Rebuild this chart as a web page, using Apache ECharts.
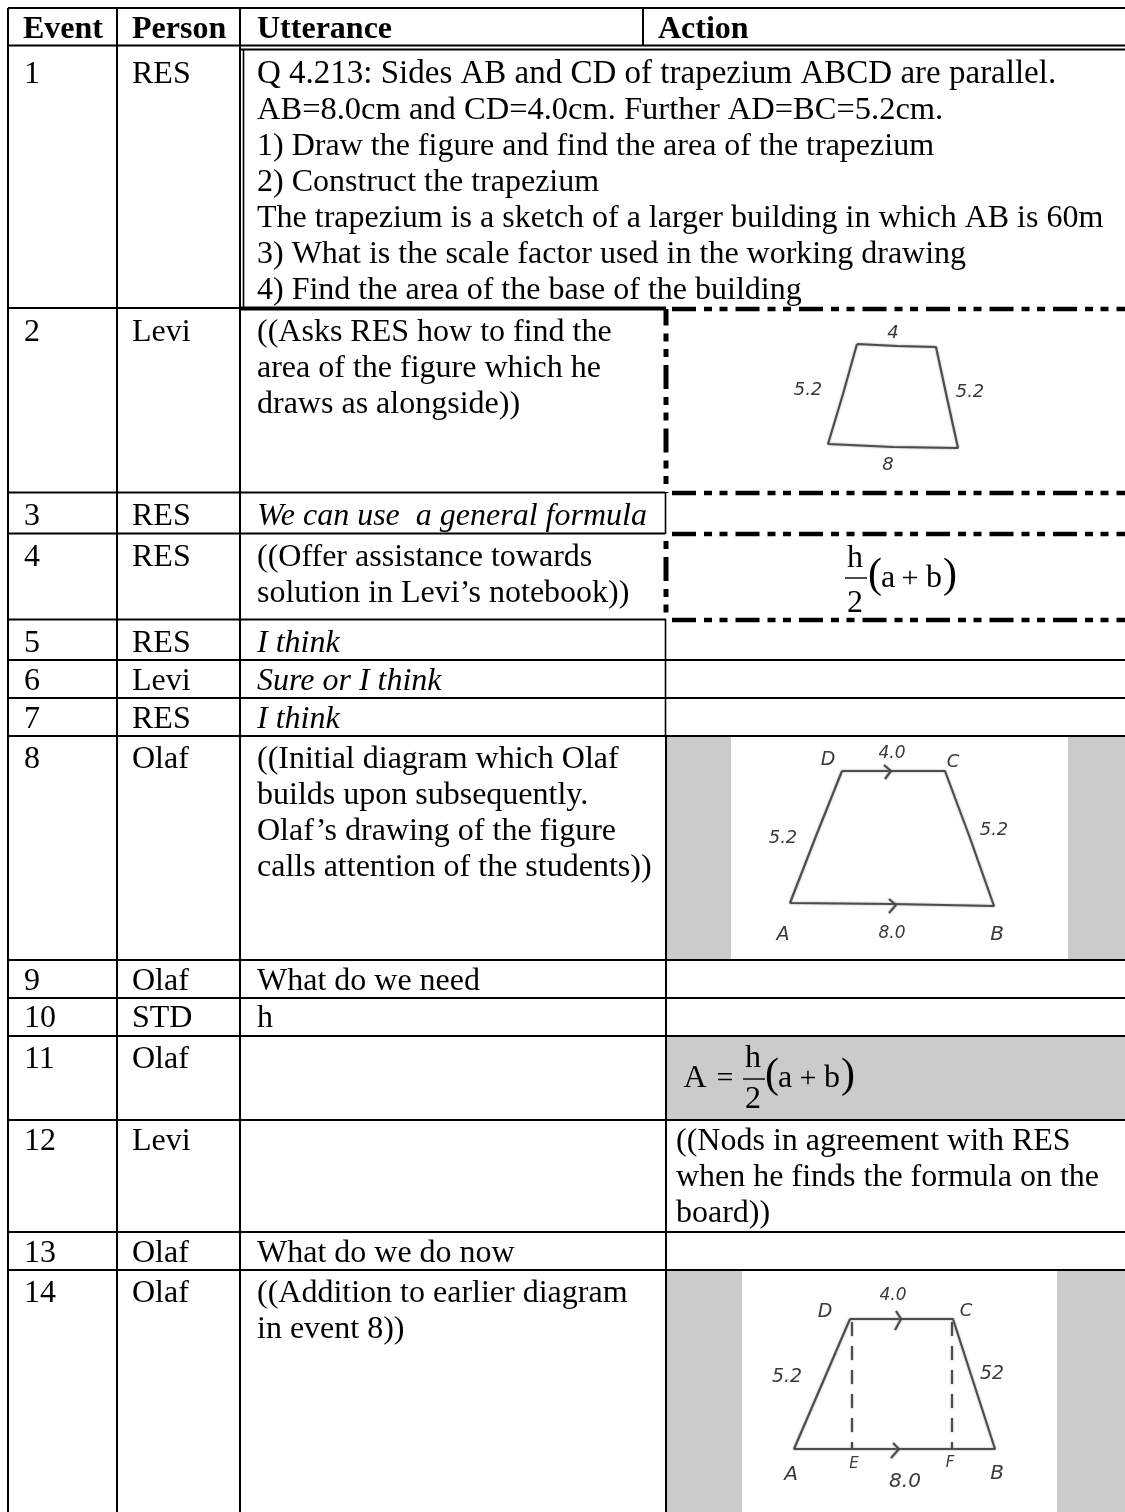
<!DOCTYPE html>
<html><head><meta charset="utf-8">
<style>html,body{margin:0;padding:0;background:#fff}#c{width:1125px;height:1512px}</style>
<script src="https://cdn.jsdelivr.net/npm/echarts@6/dist/echarts.min.js"></script>
</head><body><div id="c"></div>
<script>
// ---- table content ----
const headers = ['Event','Person','Utterance','Action'];
const events = ['1','2','3','4','5','6','7','8','9','10','11','12','13','14'];
const persons = ['RES','Levi','RES','RES','RES','Levi','RES','Olaf','Olaf','STD','Olaf','Levi','Olaf','Olaf'];
const utterances = [
  ['Q 4.213: Sides AB and CD of trapezium ABCD are parallel.','AB=8.0cm and CD=4.0cm. Further AD=BC=5.2cm.','1) Draw the figure and find the area of the trapezium','2) Construct the trapezium','The trapezium is a sketch of a larger building in which AB is 60m','3) What is the scale factor used in the working drawing','4) Find the area of the base of the building'],
  ['((Asks RES how to find the','area of the figure which he','draws as alongside))'],
  ['We can use  a general formula'],
  ['((Offer assistance towards','solution in Levi\u2019s notebook))'],
  ['I think'],['Sure or I think'],['I think'],
  ['((Initial diagram which Olaf','builds upon subsequently.','Olaf\u2019s drawing of the figure','calls attention of the students))'],
  ['What do we need'],['h'],[],[],['What do we do now'],
  ['((Addition to earlier diagram','in event 8))']
];
const italicRows = [2,4,5,6];
const actions12 = ['((Nods in agreement with RES','when he finds the formula on the','board))'];

// ---- table geometry (axis units = page pixels) ----
const firstBaselines = [83,341,525,566,652,690,728,768,990,1027,1068,1150,1262,1302];
const lineGap = 36;
const fontSize = 32;
const firstRowLineSizes = [33,32.5,32,32,32,32,32];
const xEvent = 24, xPerson = 132, xUtter = 257, xAction = 676, xActionHead = 658;
const columnRules = [8,117,240];
const solidRows = [660,698,736,960,998,1036,1120,1232,1270];
const dashedRows = [309,493,534,620];
const grayBands = [[667,731,737,960],[1068,1125,737,960],[667,1125,1037,1120],[667,742,1271,1512],[1057,1125,1271,1512]];

// ---- hand-drawn figures: outline points ----
const fig2 = [[857,344],[897,346],[936,347],[947,398],[958,448],[893,447],[828,444],[843,394],[857,344]];
const fig8 = [[842,771],[893,771],[945,771],[970,838],[994,906],[892,904],[790,903],[816,836],[842,771]];
const fig14 = [[850,1319],[900,1319],[953,1319],[974,1384],[995,1449],[895,1449],[794,1449],[822,1384],[850,1319]];
const arrows = [[[884,765],[891,771],[885,779]],[[889,899],[896,905],[889,913]],[[896,1311],[901,1319],[895,1330]],[[893,1443],[899,1449],[891,1458]]];
const dashes14 = [[[852,1322],[852,1449]],[[952,1322],[952,1449]]];
const sketchLabels = [
  ['4',893,332,18],['5.2',808,389,18],['5.2',970,391,18],['8',888,464,18],
  ['D',828,758,19],['4.0',892,752,17],['C',953,761,18],['5.2',783,837,18],['5.2',994,829,18],['A',783,933,19],['8.0',892,932,17],['B',997,933,20],
  ['4.0',893,1294,17],['D',825,1310,19],['C',966,1310,18],['5.2',787,1375,19],['52',992,1372,19],['A',791,1473,20],['E',854,1463,15],['F',950,1462,15],['8.0',905,1480,20],['B',997,1472,20]
];
// formula pieces: text, centre x, baseline y, font size
const formulaPieces = [
  ['h',855,567,32],['2',855,612,32],['(',875,587,42],['a',888,587,32],['+',910,587,30],['b',934,587,32],[')',950,587,42],
  ['A',695,1087,32],['=',725,1087,30],['h',753,1067,32],['2',753,1108,32],['(',772,1087,42],['a',785,1087,32],['+',808,1087,30],['b',832,1087,32],[')',848,1087,42]
];
const formulaBars = [[845,867,578],[743,765,1079]];

// ---- build rule list ----
const K='#000';
const rules = [];
function rule(x1,y1,x2,y2,w){rules.push([x1,y1,x2,y2,w]);}
rule(8,8,1125,8,2);                // top
rule(8,45.5,240,45.5,2); rule(240,45.5,1125,45.5,2.2); rule(240,49.5,1125,49.5,2);
rule(643,8,643,45,2);
columnRules.forEach(x=>rule(x,8,x,1512,2));
rule(243.5,49,243.5,308,1.6);
rule(8,308,240,308,2); rule(240,308.5,666,308.5,4);
rule(8,492.5,665,492.5,1.8); rule(665.5,492,665.5,534,1.6); rule(8,533.5,665,533.5,1.8);
rule(8,619.5,666,619.5,1.8); rule(665.5,619,665.5,736,1.6);
solidRows.forEach(y=>rule(8,y,1125,y,2));
rule(666,736,666,1512,2);
formulaBars.forEach(b=>rule(b[0],b[2],b[1],b[2],1.4));

// ---- build text list ----
const SERIF='"Liberation Serif","Times New Roman",serif';
const texts = [];
function T(s,x,base,size,opts){texts.push(Object.assign({s,x,base,size,align:'left',weight:'normal',style:'normal',family:SERIF,color:'#000'},opts||{}));}
T(headers[0],23,38,fontSize,{weight:'bold'});T(headers[1],132,38,fontSize,{weight:'bold'});T(headers[2],257,38,fontSize,{weight:'bold'});T(headers[3],xActionHead,38,fontSize,{weight:'bold'});
events.forEach((e,i)=>{
  T(e,xEvent,firstBaselines[i],fontSize);
  T(persons[i],xPerson,firstBaselines[i],fontSize);
  utterances[i].forEach((l,j)=>T(l,xUtter,firstBaselines[i]+j*lineGap,i===0?firstRowLineSizes[j]:fontSize,{style:italicRows.includes(i)?'italic':'normal'}));
});
actions12.forEach((l,j)=>T(l,xAction,firstBaselines[11]+j*lineGap,fontSize));
formulaPieces.forEach(p=>T(p[0],p[1],p[2],p[3],{align:'center'}));
sketchLabels.forEach(p=>T(p[0],p[1],p[2]+p[3]*0.36,p[3],{align:'center',family:'"DejaVu Sans",sans-serif',color:'#3a3a3a',style:'oblique'}));

const AXISOFF={show:false};
const sketchStyle=(d)=>({type:'line',data:d,coordinateSystem:'cartesian2d',symbol:'none',silent:true,z:3,animation:false,lineStyle:{color:'#3a3a3a',width:2.1,opacity:.85,shadowBlur:2,shadowColor:'#888'}});
const series=[
 {type:'custom',name:'bands',z:1,silent:true,animation:false,clip:false,data:grayBands,
  encode:{x:[0,1],y:[2,3]},
  renderItem:(p,api)=>{const a=api.coord([api.value(0),api.value(2)]),b=api.coord([api.value(1),api.value(3)]);
    return {type:'rect',shape:{x:a[0],y:a[1],width:b[0]-a[0],height:b[1]-a[1]},style:{fill:'#cbcbcb'}};}},
 {type:'custom',name:'rules',z:4,silent:true,animation:false,clip:false,data:rules,
  encode:{x:[0,2],y:[1,3]},
  renderItem:(p,api)=>{const a=api.coord([api.value(0),api.value(1)]),b=api.coord([api.value(2),api.value(3)]);
    return {type:'line',shape:{x1:a[0],y1:a[1],x2:b[0],y2:b[1]},style:{stroke:K,lineWidth:api.value(4)}};}},
];
// dashed heavy rules
const DASH=[24,8,8,7.5,8,8];
dashedRows.forEach(y=>series.push({type:'line',data:[[672,y],[1125,y]],symbol:'none',silent:true,z:4,animation:false,lineStyle:{color:K,width:4.5,type:DASH}}));
series.push({type:'line',data:[[666,309],[666,493]],symbol:'none',silent:true,z:4,animation:false,lineStyle:{color:K,width:5,type:DASH,dashOffset:7.5}});
series.push({type:'line',data:[[666,537],[666,620]],symbol:'none',silent:true,z:4,animation:false,lineStyle:{color:K,width:5,type:DASH,dashOffset:43.5}});
[fig2,fig8,fig14].forEach(f=>series.push(sketchStyle(f)));
arrows.forEach(a=>series.push(sketchStyle(a)));
dashes14.forEach(a=>{const s=sketchStyle(a);s.lineStyle.type=[14,10];series.push(s);});
series.push({type:'custom',name:'text',z:6,silent:true,animation:false,clip:false,data:texts.map((t,i)=>[t.x,t.base,i]),
  encode:{x:0,y:1},
  renderItem:(p,api)=>{const t=texts[api.value(2)];const c=api.coord([t.x,t.base]);
    return {type:'text',style:{text:t.s,x:c[0],y:c[1]-t.size*0.27,align:t.align,verticalAlign:'middle',fill:t.color,
      font:`${t.style} ${t.weight} ${t.size}px ${t.family}`}};}});

const chart=echarts.init(document.getElementById('c'),null,{renderer:'canvas',width:1125,height:1512});
chart.setOption({animation:false,backgroundColor:'#fff',
 grid:{left:0,right:0,top:0,bottom:0},
 xAxis:{type:'value',min:0,max:1125,...AXISOFF},
 yAxis:{type:'value',min:0,max:1512,inverse:true,...AXISOFF},
 series});
</script></body></html>
